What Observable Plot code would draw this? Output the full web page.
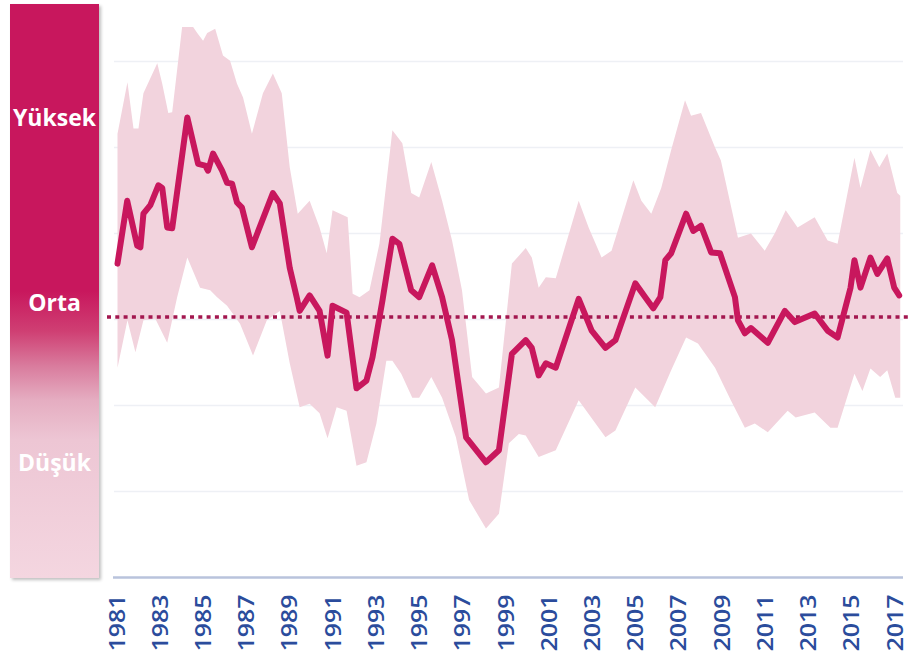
<!DOCTYPE html>
<html><head><meta charset="utf-8">
<script src="https://cdn.jsdelivr.net/npm/d3@7"></script>
<script src="https://cdn.jsdelivr.net/npm/@observablehq/plot@0.6"></script>
<style>
body{margin:0;background:#fff;}
#wrap{position:relative;width:910px;height:668px;overflow:hidden;background:#fff;}
#bar{position:absolute;left:10px;top:4px;width:89px;height:574px;
 background:linear-gradient(to bottom,#c8175d 0%,#c8175d 50%,#cf3f73 57%,#d97b9d 63%,#e5adc1 69%,#edc6d4 76%,#f4d6e0 100%);
 box-shadow:2px 2px 3px rgba(0,0,0,0.25);}
.lvl{position:absolute;left:0;width:100%;text-align:center;color:#fff;font-family:"Open Sans",sans-serif;font-weight:bold;font-size:23px;transform:translateY(-50%);line-height:1;}
</style></head>
<body><div id="wrap"><div id="chart"></div><div id="bar"></div></div>
<script>
// Central estimate (index level)
const lineYears = [1981.0,1981.45,1981.91,1982.06,1982.20,1982.52,1982.89,1983.07,1983.30,1983.53,1984.23,1984.73,1985.06,1985.19,1985.42,1985.84,1986.07,1986.30,1986.53,1986.76,1987.22,1988.19,1988.51,1988.97,1989.29,1989.43,1989.89,1990.35,1990.72,1990.95,1991.60,1992.06,1992.52,1992.80,1993.26,1993.72,1994.04,1994.59,1994.96,1995.56,1996.02,1996.48,1997.13,1998.05,1998.65,1999.25,1999.89,2000.17,2000.49,2000.82,2001.28,2002.34,2002.94,2003.58,2004.04,2004.96,2005.42,2005.79,2006.12,2006.35,2006.62,2007.31,2007.64,2008.00,2008.47,2008.88,2009.57,2009.71,2010.03,2010.31,2011.09,2011.88,2012.34,2013.26,2013.86,2014.32,2014.92,2015.10,2015.38,2015.84,2016.16,2016.62,2016.94,2017.17];
const lineValues = [3.65,4.38,3.86,3.84,4.23,4.33,4.56,4.53,4.07,4.06,5.35,4.81,4.79,4.73,4.93,4.73,4.59,4.58,4.36,4.30,3.84,4.47,4.35,3.60,3.26,3.10,3.28,3.10,2.58,3.16,3.08,2.20,2.29,2.56,3.22,3.94,3.88,3.34,3.26,3.63,3.26,2.76,1.63,1.34,1.48,2.60,2.76,2.67,2.35,2.49,2.44,3.24,2.87,2.67,2.76,3.42,3.26,3.13,3.26,3.69,3.77,4.23,4.03,4.09,3.78,3.77,3.26,2.99,2.84,2.90,2.73,3.10,2.97,3.07,2.87,2.79,3.37,3.69,3.37,3.72,3.53,3.71,3.37,3.28];
// Upper bound of range
const upperYears = [1981.0,1981.46,1981.74,1981.97,1982.20,1982.84,1983.07,1983.35,1983.53,1983.99,1984.50,1984.69,1984.96,1985.15,1985.52,1985.88,1986.21,1986.53,1986.81,1987.22,1987.73,1988.19,1988.60,1988.97,1989.34,1989.89,1990.35,1990.68,1990.95,1991.65,1991.88,1992.20,1992.66,1993.12,1993.72,1994.18,1994.59,1994.96,1995.52,1996.02,1996.48,1996.94,1997.41,1998.05,1998.65,1999.25,1999.89,2000.17,2000.49,2000.82,2001.28,2002.34,2002.80,2003.40,2003.86,2004.87,2005.24,2005.70,2006.16,2006.62,2007.26,2007.54,2008.00,2008.65,2008.92,2009.71,2010.31,2010.95,2011.41,2011.92,2012.47,2013.26,2013.86,2014.32,2015.10,2015.38,2015.84,2016.25,2016.62,2017.08,2017.22];
const upperValues = [5.16,5.76,5.22,5.22,5.63,5.98,5.74,5.40,5.41,6.40,6.40,6.33,6.24,6.33,6.38,6.07,6.01,5.74,5.58,5.16,5.63,5.86,5.63,4.77,4.23,4.38,4.07,3.77,4.27,4.19,3.30,3.26,3.34,3.88,5.20,5.05,4.47,4.42,4.83,4.38,3.92,3.34,2.33,2.14,2.21,3.65,3.83,3.72,3.37,3.49,3.48,4.38,4.07,3.72,3.80,4.62,4.38,4.23,4.53,4.97,5.55,5.37,5.40,5.00,4.85,3.95,4.00,3.80,4.00,4.27,4.07,4.19,3.92,3.88,4.88,4.53,4.97,4.77,4.93,4.47,4.44];
// Lower bound of range
const lowerYears = [1981.0,1981.46,1981.83,1982.20,1982.75,1983.30,1983.76,1984.23,1984.82,1985.29,1985.61,1986.07,1986.67,1987.27,1987.91,1988.51,1988.97,1989.43,1989.89,1990.35,1990.72,1991.14,1991.60,1992.06,1992.52,1992.98,1993.44,1993.72,1994.13,1994.64,1994.96,1995.52,1996.02,1996.66,1997.27,1998.05,1998.65,1999.11,1999.57,1999.89,2000.49,2001.28,2002.34,2003.58,2004.04,2004.96,2005.88,2006.62,2007.31,2007.86,2008.65,2009.38,2010.03,2010.49,2011.09,2012.01,2012.38,2013.26,2013.99,2014.32,2015.10,2015.47,2015.84,2016.29,2016.62,2016.99,2017.22];
const lowerValues = [2.44,2.99,2.62,2.99,3.01,2.73,3.26,3.72,3.37,3.34,3.26,3.16,2.95,2.58,2.99,3.10,2.49,1.98,2.02,1.91,1.62,1.98,1.94,1.30,1.34,1.79,2.52,2.52,2.37,2.09,2.09,2.33,2.09,1.63,0.90,0.57,0.74,1.56,1.67,1.65,1.40,1.48,2.06,1.63,1.71,2.21,1.98,2.41,2.79,2.72,2.44,2.06,1.74,1.79,1.69,1.94,1.86,1.92,1.74,1.74,2.37,2.17,2.43,2.33,2.41,2.09,2.09];
const tickYears = [1981,1983,1985,1987,1989,1991,1993,1995,1997,1999,2001,2003,2005,2007,2009,2011,2013,2015,2017];
const gridLevels = [1,2,3,4,5,6];
const avgLevel = 3.03;
const levelLabels = ["Yüksek","Orta","Düşük"];
const levelValues = [5.35,3.2,1.34];

const lineData = lineYears.map((y,i)=>({year:y,value:lineValues[i]}));
const bandPoly = upperYears.map((y,i)=>({year:y,value:upperValues[i]}))
  .concat(lowerYears.map((y,i)=>({year:y,value:lowerValues[i]})).reverse());

const chart = Plot.plot({
  width:910, height:668,
  marginLeft:117, marginRight:15, marginTop:61, marginBottom:91,
  style:{fontFamily:"Open Sans, sans-serif", fontSize:"22px", background:"transparent"},
  x:{domain:[1981,2017], axis:null},
  y:{domain:[0,6], axis:null},
  marks:[
    Plot.ruleY(gridLevels,{stroke:"#eef0f5", strokeWidth:1.5, insetLeft:-3, insetRight:-8}),
    Plot.line(bandPoly,{x:"year", y:"value", fill:"#f2d3dd", stroke:"none", curve:"linear"}),
    Plot.ruleY([avgLevel],{stroke:"#a3174f", strokeWidth:3.5, strokeDasharray:"4 4.3", insetLeft:-10, insetRight:-15}),
    Plot.line(lineData,{x:"year", y:"value", stroke:"#c8175d", strokeWidth:6, strokeLinejoin:"round", strokeLinecap:"round"}),
    Plot.ruleY([0],{stroke:"#b9c3dc", strokeWidth:2.5, insetLeft:-4, insetRight:-8}),
    Plot.axisX(tickYears,{label:null, tickSize:0, tickPadding:17, tickRotate:-90, tickFormat:d=>String(d), fill:"#2b4c9c", fontSize:22, fontWeight:600})
  ]
});
document.getElementById("chart").appendChild(chart);

d3.select(chart).selectAll('g[aria-label="x-axis tick label"] text').each(function(){
  const t = this.getAttribute("transform") || "";
  this.setAttribute("transform", t + " scale(1.13,1)");
});

const yScale = chart.scale("y");
const bar = document.getElementById("bar");
levelLabels.forEach((lab,i)=>{
  const d = document.createElement("div");
  d.className = "lvl";
  d.textContent = lab;
  d.style.top = (yScale.apply(levelValues[i]) - 4) + "px";
  bar.appendChild(d);
});
</script>
</body></html>
